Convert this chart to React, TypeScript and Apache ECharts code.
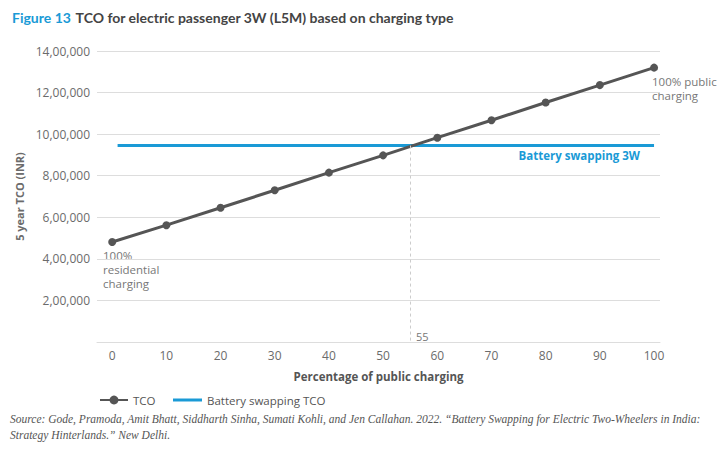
import React, { useEffect, useRef } from "react";
import * as echarts from "echarts";

const percentPublic = [0, 10, 20, 30, 40, 50, 60, 70, 80, 90, 100];
const tcoValues = [481000, 562000, 646000, 730000, 815000, 898000, 983000, 1067000, 1152000, 1236000, 1320000];
const swapRange = [1, 100];
const swapValue = 945000;
const breakEven = 55;
const yMin = 0;
const yMax = 1400000;
const yInterval = 200000;

const BLUE = "#1a9ad6";
const DARK = "#555555";
const GREY = "#6b6b6b";
const FONT = "'Open Sans', sans-serif";

function indianFormat(v: number): string {
  const s = String(Math.round(v));
  if (s.length <= 3) return s;
  const last3 = s.slice(-3);
  let rest = s.slice(0, -3);
  const parts: string[] = [];
  while (rest.length > 2) {
    parts.unshift(rest.slice(-2));
    rest = rest.slice(0, -2);
  }
  if (rest.length) parts.unshift(rest);
  return parts.join(",") + "," + last3;
}

export default function App() {
  const ref = useRef<HTMLDivElement>(null);
  useEffect(() => {
    document.body.style.margin = "0";
    if (!ref.current) return;
    const chart = echarts.init(ref.current, undefined, { renderer: "svg" });
    chart.setOption({
      animation: false,
      backgroundColor: "#ffffff",
      textStyle: { fontFamily: FONT },
      title: {
        left: 7,
        top: 3,
        text: "{a|Figure 13} {b|TCO for electric passenger 3W (L5M) based on charging type}",
        textStyle: {
          rich: {
            a: { color: BLUE, fontWeight: "bold", fontSize: 14, fontFamily: "Lato, sans-serif" },
            b: { color: "#444", fontWeight: "bold", fontSize: 14, fontFamily: "Lato, sans-serif" },
          },
        },
      },
      grid: { left: 97, right: 68, top: 51, bottom: 114 },
      xAxis: {
        type: "value",
        min: -2.8,
        max: 101.1,
        name: "Percentage of public charging",
        nameLocation: "middle",
        nameGap: 28,
        nameTextStyle: { color: DARK, fontWeight: "bold", fontSize: 11.5, fontFamily: FONT },
        axisLine: { show: true, lineStyle: { color: "#dddddd", width: 1 } },
        axisTick: { show: false },
        splitLine: { show: false },
        axisLabel: {
          customValues: percentPublic,
          color: GREY,
          fontSize: 12,
          margin: 7,
          fontFamily: FONT,
        },
      },
      yAxis: {
        type: "value",
        min: yMin,
        max: yMax,
        interval: yInterval,
        name: "5 year TCO (INR)",
        nameLocation: "middle",
        nameGap: 70,
        nameTextStyle: { color: GREY, fontWeight: "bold", fontSize: 11, fontFamily: FONT },
        axisLine: { show: false },
        axisTick: { show: false },
        splitLine: { show: true, lineStyle: { color: "#dddddd", width: 1.2 } },
        axisLabel: {
          color: GREY,
          fontSize: 12,
          margin: 7,
          fontFamily: FONT,
          formatter: (v: number) => (v === 0 ? "" : indianFormat(v)),
        },
      },
      legend: [
        {
          left: 94,
          top: 389,
          itemWidth: 28,
          itemHeight: 11,
          textStyle: { color: DARK, fontSize: 11.5, fontFamily: FONT },
          data: ["TCO"],
        },
        {
          left: 168,
          top: 389,
          itemWidth: 29,
          itemHeight: 3,
          icon: "rect",
          textStyle: { color: DARK, fontSize: 11.5, fontFamily: FONT },
          data: ["Battery swapping TCO"],
        },
      ],
      series: [
        {
          name: "Battery swapping TCO",
          type: "line",
          data: swapRange.map((x) => [x, swapValue]),
          symbol: "none",
          color: BLUE,
          lineStyle: { width: 3, color: BLUE },
          z: 2,
          markLine: {
            silent: true,
            symbol: ["none", "none"],
            label: { show: false },
            lineStyle: { type: [3, 3], color: "#cccccc", width: 1 },
            data: [[{ coord: [breakEven, swapValue] }, { coord: [breakEven, yMin] }]],
          },
        },
        {
          name: "TCO",
          type: "line",
          data: percentPublic.map((x, i) => [x, tcoValues[i]]),
          symbol: "circle",
          symbolSize: 8,
          color: DARK,
          lineStyle: { width: 3, color: DARK },
          itemStyle: { color: DARK },
          z: 3,
        },
      ],
      graphic: [
        {
          type: "text",
          left: 103,
          top: 248,
          style: {
            text: "100%\nresidential\ncharging",
            fill: "#777",
            fontSize: 11.5,
            lineHeight: 14,
            fontFamily: FONT,
          },
        },
        {
          type: "text",
          left: 652,
          top: 74,
          style: {
            text: "100% public\ncharging",
            fill: "#777",
            fontSize: 11.5,
            lineHeight: 14,
            fontFamily: FONT,
          },
        },
        {
          type: "text",
          x: 640,
          y: 155,
          style: {
            text: "Battery swapping 3W",
            fill: BLUE,
            fontSize: 11.5,
            fontWeight: "bold",
            align: "right",
            verticalAlign: "middle",
            fontFamily: FONT,
          },
        },
        {
          type: "text",
          x: 416,
          y: 336,
          style: {
            text: String(breakEven),
            fill: "#777",
            fontSize: 11,
            verticalAlign: "middle",
            fontFamily: FONT,
          },
        },
        {
          type: "text",
          x: 10,
          y: 419,
          style: {
            text: "Source: Gode, Pramoda, Amit Bhatt, Siddharth Sinha, Sumati Kohli, and Jen Callahan. 2022. \u201cBattery Swapping for Electric Two-Wheelers in India:",
            fill: "#555",
            fontSize: 11.5,
            fontStyle: "italic",
            verticalAlign: "middle",
            fontFamily: "'Liberation Serif', serif",
          },
        },
        {
          type: "text",
          x: 10,
          y: 435,
          style: {
            text: "Strategy Hinterlands.\u201d New Delhi.",
            fill: "#555",
            fontSize: 11.5,
            fontStyle: "italic",
            verticalAlign: "middle",
            fontFamily: "'Liberation Serif', serif",
          },
        },
      ],
    });
    return () => chart.dispose();
  }, []);
  return <div ref={ref} style={{ width: 728, height: 456 }} />;
}
